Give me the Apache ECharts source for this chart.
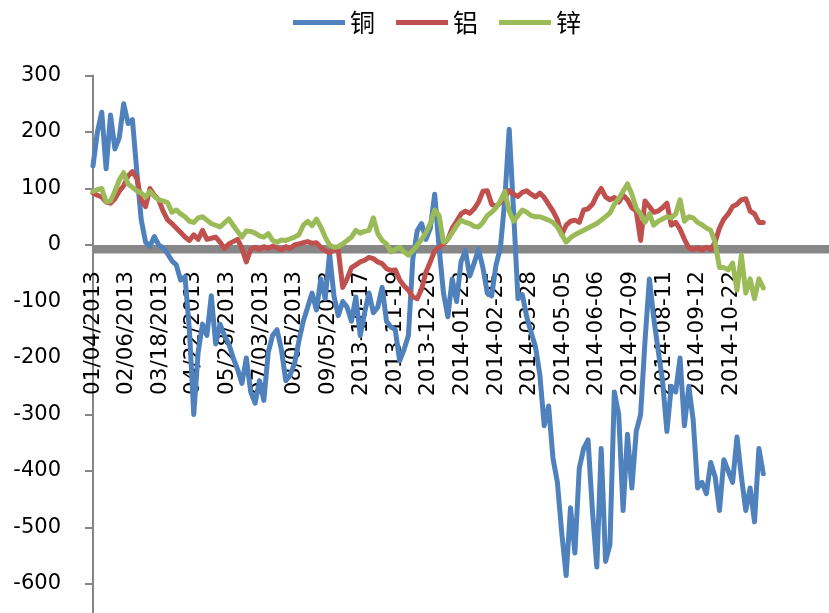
<!DOCTYPE html>
<html>
<head>
<meta charset="utf-8">
<script src="https://cdn.jsdelivr.net/npm/echarts@6/dist/echarts.min.js"></script>
<style>
  html, body { margin: 0; padding: 0; background: #ffffff; }
  #chart { width: 829px; height: 613px; }
</style>
</head>
<body>
<div id="chart"></div>
<script>
// Spread series: copper, aluminium, zinc, sampled every third trading day
const seriesNames = ['铜', '铝', '锌'];

const tickLabels = [
  '01/04/2013', '02/06/2013', '03/18/2013', '04/22/2013', '05/28/2013',
  '07/03/2013', '08/05/2013', '09/05/2013', '2013-10-17', '2013-11-19',
  '2013-12-20', '2014-01-23', '2014-02-25', '2014-03-28', '2014-05-05',
  '2014-06-06', '2014-07-09', '2014-08-11', '2014-09-12', '2014-10-22'
];

const copper = [
  140, 200, 235, 135, 230, 170, 190, 250, 215, 222,
  130, 45, 5, -2, 15, 0, -5, -15, -28, -35,
  -62, -56, -150, -300, -190, -140, -160, -90, -175, -140,
  -160, -175, -200, -220, -245, -200, -260, -280, -240, -275,
  -190, -160, -150, -185, -240, -230, -210, -170, -135, -110,
  -85, -115, -60, -95, -15, -90, -125, -100, -110, -135,
  -92, -160, -120, -85, -120, -110, -75, -135, -145, -150,
  -205, -185, -160, -25, 25, 38, 10, 30, 90, -5,
  -85, -127, -60, -100, -30, -10, -55, -32, -8, -40,
  -85, -90, -35, -5, 80, 205, 60, -95, -88, -127,
  -155, -180, -230, -320, -285, -378, -420, -510, -585, -465,
  -545, -395, -360, -345, -470, -570, -360, -560, -530, -260,
  -300, -470, -335, -430, -330, -300, -170, -60, -130, -186,
  -240, -330, -250, -260, -200, -320, -250, -310, -430, -420,
  -440, -385, -410, -470, -380, -400, -420, -340, -410, -470,
  -430, -490, -360, -405
];

const aluminium = [
  92, 88, 85, 76, 74, 82, 95, 105, 122, 130,
  118, 80, 68, 100, 88, 80, 60, 45, 38, 30,
  22, 14, 8, 18, 10, 26, 10, 12, 14, 5,
  -6, 2, 6, 10, -6, -30, -8, -4, -8, -3,
  -6, -2, -5, -9, -3, -6, 0, 2, 4, 6,
  3, 4, -4, -10, -14, -8, -10, -75, -60, -40,
  -35, -30, -27, -22, -24, -30, -33, -42, -45, -44,
  -62, -72, -80, -92, -95, -78, -48, -30, -10, -4,
  2, 10, 30, 42, 55, 60, 56, 64, 76, 95,
  96, 72, 68, 75, 85, 96, 90, 86, 93, 96,
  90, 85, 92, 84, 72, 60, 45, 18, 35, 42,
  44, 40, 62, 64, 72, 88, 100, 85, 80, 84,
  76, 88, 80, 66, 60, 8, 78, 68, 58, 60,
  66, 74, 35, 40, 28, 10, -5, -8, -5, -9,
  -4, -8, 5, 30, 46, 55, 68, 72, 80, 82,
  60, 55, 40, 40
];

const zinc = [
  95, 98, 100, 76, 78, 95, 115, 128, 108, 102,
  96, 92, 85, 95, 86, 80, 78, 75, 58, 62,
  55, 50, 42, 40, 48, 50, 44, 38, 35, 32,
  39, 46, 35, 24, 14, 25, 24, 21, 16, 14,
  20, 8, 5, 9, 8, 11, 14, 18, 35, 42,
  34, 46, 32, 14, 0, -4, -3, 2, 8, 14,
  26, 21, 24, 26, 48, 20, 8, 2, -12, -8,
  -4, -12, -18, -10, 0, 10, 22, 38, 62, 52,
  5, 10, 22, 34, 44, 40, 38, 33, 32, 40,
  52, 58, 66, 78, 95, 60, 42, 52, 62, 58,
  52, 50, 50, 47, 44, 40, 32, 18, 5, 13,
  18, 22, 26, 30, 34, 38, 44, 50, 57, 72,
  82, 95, 108, 90, 65, 55, 40, 55, 35, 42,
  46, 50, 48, 55, 80, 42, 50, 48, 40, 36,
  30, 26, 5, -40, -40, -44, -32, -80, -18, -85,
  -60, -95, -60, -76
];

const DAY_STEP = 3;        // trading days between stored values
const LABEL_EVERY = 23;    // trading days between axis labels
const DAY_MAX = 504;       // right edge of the plotting area, in trading days
const Y_MIN = -700, Y_MAX = 300;

const GRID = { left: 93, top: 75.5, width: 736, height: 565 };
// distance from the grid bottom up to the zero value, where the date labels hang
const zeroFromBottom = GRID.height * (0 - Y_MIN) / (Y_MAX - Y_MIN);

const colors = ['#4F81BD', '#C0504D', '#9BBB59'];
const toPairs = arr => arr.map((v, i) => [i * DAY_STEP, v]);

const chart = echarts.init(document.getElementById('chart'), null, { renderer: 'canvas' });

const lineSeries = [copper, aluminium, zinc].map((arr, k) => ({
  name: seriesNames[k],
  type: 'line',
  data: toPairs(arr),
  symbol: 'none',
  showSymbol: false,
  smooth: false,
  lineStyle: { color: colors[k], width: 5, join: 'round', cap: 'round' },
  itemStyle: { color: colors[k] },
  emphasis: { disabled: true },
  animation: false
}));

// thick grey band just under the zero line
lineSeries[0].markArea = {
  silent: true,
  itemStyle: { color: '#878787' },
  label: { show: false },
  data: [[{ yAxis: 0 }, { yAxis: -15 }]]
};

chart.setOption({
  backgroundColor: '#ffffff',
  animation: false,
  textStyle: { fontFamily: 'DejaVu Sans' },
  legend: {
    data: seriesNames,
    left: 288,
    top: 5,
    icon: 'rect',
    itemWidth: 52,
    itemHeight: 5,
    itemGap: 21,
    textStyle: { fontFamily: 'Noto Sans CJK SC', fontSize: 25, color: '#000000' }
  },
  grid: Object.assign({ containLabel: false, outerBoundsMode: 'none' }, GRID),
  xAxis: {
    type: 'value',
    position: 'bottom',
    offset: -zeroFromBottom,
    min: 0,
    max: DAY_MAX,
    interval: LABEL_EVERY,
    axisLine: { show: false, onZero: false },
    axisTick: { show: false },
    splitLine: { show: false },
    axisLabel: {
      rotate: 90,
      margin: 26,
      fontFamily: 'DejaVu Sans',
      fontSize: 21.5,
      color: '#000000',
      showMinLabel: true,
      showMaxLabel: true,
      hideOverlap: false,
      formatter: v => {
        const k = v / LABEL_EVERY;
        return Number.isInteger(k) && tickLabels[k] ? tickLabels[k] : '';
      }
    }
  },
  yAxis: {
    type: 'value',
    min: Y_MIN,
    max: Y_MAX,
    interval: 100,
    axisLine: { show: true, onZero: false, lineStyle: { color: '#868686', width: 2 } },
    axisTick: { show: true, inside: false, length: 8, lineStyle: { color: '#868686', width: 2 } },
    splitLine: { show: false },
    axisLabel: {
      margin: 32,
      fontFamily: 'DejaVu Sans',
      fontSize: 21,
      color: '#000000'
    }
  },
  series: lineSeries
});
</script>
</body>
</html>
